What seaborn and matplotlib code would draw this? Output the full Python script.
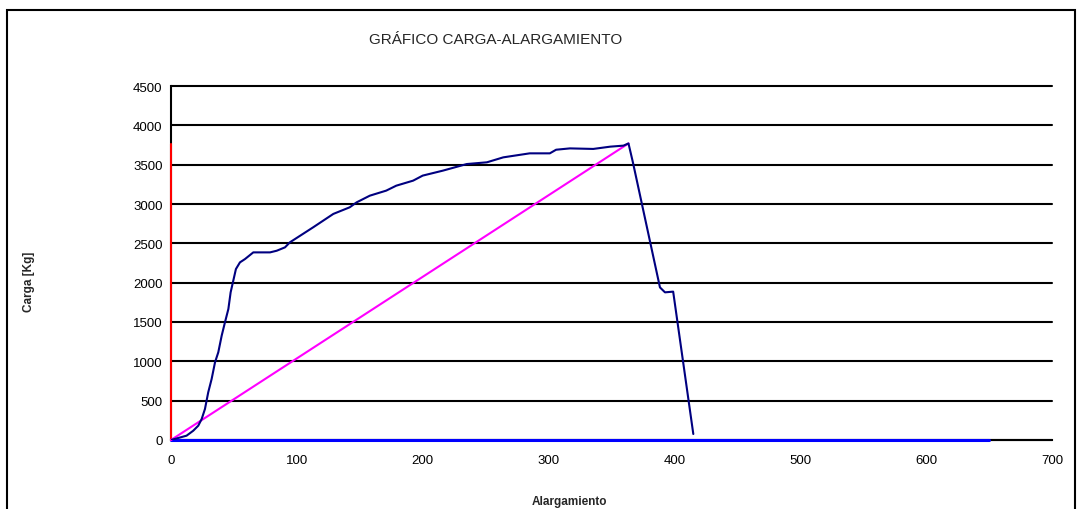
import pandas as pd
import seaborn as sns
import matplotlib.pyplot as plt
from matplotlib.patches import Rectangle

# curva carga-alargamiento
alargamiento = [0, 4.5, 12.4, 17.7, 21.7, 24.4, 27, 29.6, 32.3, 35, 37.6, 40.3, 42.9,
                45.6, 47.4, 49.5, 51.6, 54.8, 58.8, 65.4, 78.7, 84, 90.6, 94.5, 113,
                129, 142, 147.5, 158, 171, 179, 192.4, 200, 216, 235, 251, 264, 285,
                301, 306, 317, 335.5, 349, 359.5, 363.5, 367, 388.5, 392.5, 399, 415]
carga = [0, 20, 55, 118, 182, 267, 394, 606, 775, 988, 1115, 1327, 1496,
         1665, 1877, 2025, 2173, 2258, 2300, 2385, 2385, 2406, 2449, 2513, 2704,
         2874, 2958, 3021, 3106, 3170, 3233, 3297, 3361, 3424, 3508, 3530, 3593, 3644,
         3644, 3690, 3707, 3700, 3729, 3742, 3770, 3530, 1940, 1877, 1886, 76]

# rectas auxiliares
recta_x = [0, 363.5]
recta_y = [0, 3770]
vert_x = [0, 0]
vert_y = [0, 3760]
base_x = [0, 650]
base_y = [0, 0]

curva = pd.DataFrame({'x': alargamiento, 'y': carga})

sns.set_style('white')
plt.rcParams['font.family'] = ['Liberation Sans', 'DejaVu Sans']

fig = plt.figure(figsize=(10.78, 5.10), dpi=100)
ax = fig.add_axes([0.1586, 0.1353, 0.8173, 0.6941])

# marco del grafico
fig.patches.append(Rectangle((0.0065, -0.1), 0.991, 1.078, transform=fig.transFigure,
                             fill=False, edgecolor='black', linewidth=1.5))

opts = dict(ax=ax, sort=False, estimator=None, zorder=4, clip_on=False)
sns.lineplot(x=base_x, y=base_y, color='#0000ff', linewidth=2.2, **opts)
sns.lineplot(x=vert_x, y=vert_y, color='#ff0000', linewidth=1.5, **opts)
sns.lineplot(x=recta_x, y=recta_y, color='#ff00ff', linewidth=1.5, **opts)
sns.lineplot(data=curva, x='x', y='y', ax=ax, sort=False, estimator=None,
             color='#000080', linewidth=1.5, zorder=5)

ax.set_xlim(0, 700)
ax.set_ylim(0, 4500)
ax.set_xticks(range(0, 701, 100))
ax.set_yticks(range(0, 4501, 500))
ax.yaxis.grid(True, color='black', linewidth=1.5)
for gl in ax.get_ygridlines():
    gl.set_clip_on(False)

for s in ['top', 'right']:
    ax.spines[s].set_visible(False)
ax.spines['left'].set_color('black')
ax.spines['bottom'].set_color('black')
ax.spines['left'].set_linewidth(1.5)
ax.spines['bottom'].set_linewidth(1.5)
ax.tick_params(axis='both', direction='out', length=4, width=1.5, color='black',
               labelsize=9.5, labelcolor='black')
ax.tick_params(axis='x', pad=6)
ax.tick_params(axis='y', pad=2)

ax.set_xlabel('Alargamiento', fontsize=8.5, fontweight='bold', va='center', ha='center')
ax.xaxis.set_label_coords(0.452, -0.172)
ax.set_ylabel('Carga [Kg]', fontsize=8.5, fontweight='bold', va='center', ha='center')
ax.yaxis.set_label_coords(-0.161, 0.449)
fig.text(0.46, 0.922, 'GRÁFICO CARGA-ALARGAMIENTO', ha='center', va='center', fontsize=11)

fig.savefig('out.png', dpi=100)
